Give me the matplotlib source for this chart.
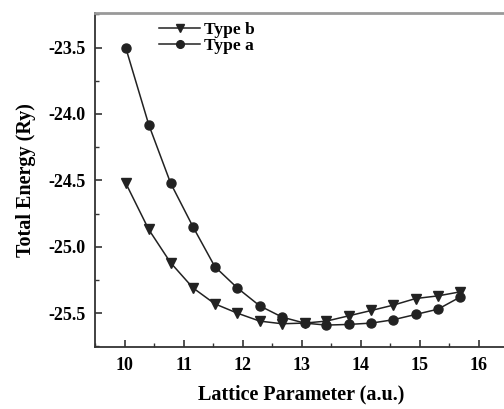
import matplotlib.pyplot as plt
from matplotlib.ticker import MultipleLocator

plt.rcParams['font.family'] = ['Liberation Serif', 'DejaVu Serif']
plt.rcParams['font.weight'] = 'bold'

lattice = [10.02, 10.41, 10.78, 11.16, 11.53, 11.91, 12.29, 12.67,
           13.05, 13.42, 13.80, 14.18, 14.55, 14.93, 15.31, 15.68]
energy_a = [-23.50, -24.08, -24.52, -24.85, -25.15, -25.31, -25.445, -25.53,
            -25.575, -25.59, -25.585, -25.575, -25.55, -25.51, -25.47, -25.38]
energy_b = [-24.52, -24.87, -25.12, -25.31, -25.43, -25.50, -25.56, -25.58,
            -25.575, -25.56, -25.52, -25.48, -25.44, -25.39, -25.37, -25.34]

fig = plt.figure(figsize=(5.04, 4.09), dpi=100)
ax = fig.add_axes([0.1885, 0.1516, 0.82, 0.8164])

ax.plot(lattice, energy_b, color='#222222', lw=1.1, marker='v', ms=6.5, label='Type b')
ax.plot(lattice, energy_a, color='#222222', lw=1.1, marker='o', ms=6.5, label='Type a')

ax.set_xlim(9.5, 16.5)
ax.set_ylim(-25.755, -23.24)
ax.xaxis.set_major_locator(MultipleLocator(1))
ax.xaxis.set_minor_locator(MultipleLocator(0.5))
ax.yaxis.set_major_locator(MultipleLocator(0.5))
ax.yaxis.set_minor_locator(MultipleLocator(0.25))
ax.yaxis.set_major_formatter(plt.FormatStrFormatter('%.1f'))
ax.tick_params(which='both', direction='in', top=False, right=False, labelsize=13, color='#333333')
ax.tick_params(which='major', length=5, width=1.2, pad=7)
ax.tick_params(which='minor', length=3, width=1.0)

ax.spines['right'].set_visible(False)
ax.spines['top'].set_color('#999999')
ax.spines['top'].set_linewidth(2)
for s in ['left', 'bottom']:
    ax.spines[s].set_linewidth(1.3)
    ax.spines[s].set_color('#333333')

ax.set_xlabel('Lattice Parameter (a.u.)', fontsize=14.5, fontweight='bold', labelpad=8)
ax.set_ylabel('Total Energy (Ry)', fontsize=14.5, fontweight='bold', labelpad=9)

ax.legend(loc='upper left', bbox_to_anchor=(0.125, 1.01), frameon=False, fontsize=12.5,
          handlelength=2.4, handletextpad=0.2, labelspacing=0.0, borderaxespad=0.3,
          markerscale=0.85)

fig.savefig('out.png', dpi=100)
